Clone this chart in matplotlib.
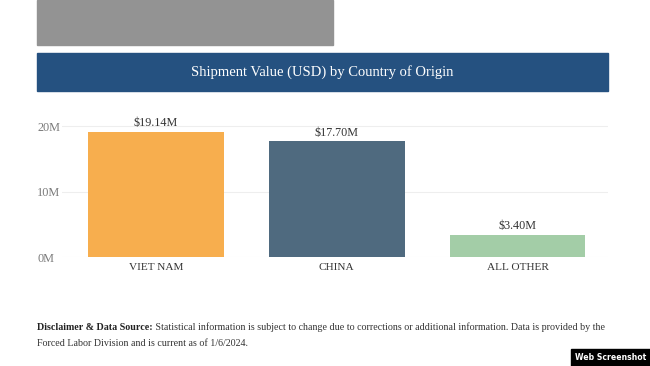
import matplotlib.pyplot as plt
from matplotlib.patches import Rectangle

countries = ["VIET NAM", "CHINA", "ALL OTHER"]
values_m = [19.14, 17.70, 3.40]
value_labels = ["$19.14M", "$17.70M", "$3.40M"]
bar_colors = ["#F7AE4E", "#4F6A7F", "#A3CDA7"]
yticks = [0, 10, 20]
ytick_labels = ["0M", "10M", "20M"]

title = "Shipment Value (USD) by Country of Origin"
disclaimer_bold = "Disclaimer & Data Source:"
disclaimer_1 = (" Statistical information is subject to change due to corrections or "
                "additional information. Data is provided by the")
disclaimer_2 = "Forced Labor Division and is current as of 1/6/2024."

W, H = 650, 366
plt.rcParams['font.family'] = ['Liberation Serif', 'DejaVu Serif']

fig = plt.figure(figsize=(W / 100, H / 100), dpi=100)
fig.patch.set_facecolor("white")

def fx(px):
    return px / W

def fy(py):
    return 1 - py / H

# gray placeholder block at the top
fig.patches.append(Rectangle((fx(37), fy(45)), fx(333) - fx(37), fy(0) - fy(45),
                             transform=fig.transFigure, color="#939393", zorder=0))
# title banner
fig.patches.append(Rectangle((fx(37), fy(91)), fx(608) - fx(37), fy(53) - fy(91),
                             transform=fig.transFigure, color="#255180", zorder=0))
fig.text(fx(322), fy(72), title, color="white", fontsize=10.5, ha="center", va="center")

# bar chart
ax = fig.add_axes([fx(62), fy(257), fx(608) - fx(62), fy(119.5) - fy(257)])
x = list(range(len(countries)))
ax.bar(x, values_m, width=0.75, color=bar_colors, zorder=2)
for xi, v, lab in zip(x, values_m, value_labels):
    ax.text(xi, v + 0.35, lab, ha="center", va="bottom", fontsize=8.7, color="#333333")
ax.set_xlim(-0.52, 2.5)
ax.set_ylim(0, 21)
ax.set_yticks(yticks)
ax.set_yticklabels(ytick_labels)
ax.set_xticks(x)
ax.set_xticklabels(countries)
ax.grid(axis="y", color="#eeeeee", linewidth=0.8, zorder=0)
for s in ax.spines.values():
    s.set_visible(False)
ax.tick_params(axis="y", length=0, labelsize=8.8, labelcolor="#7a7a7a", pad=18)
ax.tick_params(axis="x", length=0, labelsize=8.1, labelcolor="#333333", pad=4)
for lbl in ax.get_yticklabels():
    lbl.set_horizontalalignment("left")

# disclaimer footer
t = fig.text(fx(37), fy(327), disclaimer_bold, fontsize=7.2, fontweight="bold",
             color="#222222", va="center")
fig.canvas.draw()
bb = t.get_window_extent()
fig.text(bb.x1 / W, fy(327), disclaimer_1, fontsize=7.2, color="#333333", va="center")
fig.text(fx(37), fy(343), disclaimer_2, fontsize=7.2, color="#333333", va="center")

# watermark
fig.patches.append(Rectangle((fx(571), 0), 1 - fx(571), fy(349),
                             transform=fig.transFigure, color="black", zorder=5))
fig.text(fx(610.5), fy(357.5), "Web Screenshot", color="white", fontsize=5.6,
         fontweight="bold", family="DejaVu Sans", ha="center", va="center", zorder=6)

fig.savefig("out.png", dpi=100)
